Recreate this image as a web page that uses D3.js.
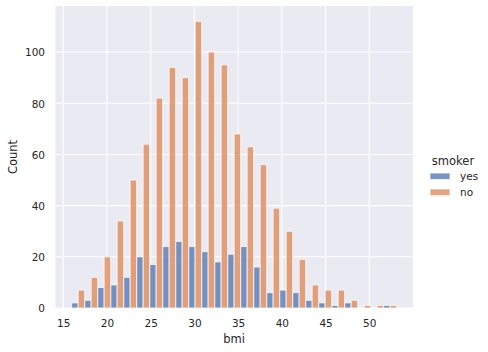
<!DOCTYPE html>
<html>
<head>
<meta charset="utf-8">
<script src="https://cdn.jsdelivr.net/npm/d3@7"></script>
<style>
  html, body { margin: 0; padding: 0; background: #ffffff; }
  svg { display: block; }
  text { font-family: "DejaVu Sans", sans-serif; fill: #262626; }
</style>
</head>
<body>
<svg id="chart" width="488" height="352"></svg>
<script>
// ---- data ----
const hueLevels = ["yes", "no"];
const bmiMin = 15.96;
const bmiMax = 53.13;
const nBins = 25;
const countsYes = [2, 3, 8, 9, 12, 20, 17, 24, 26, 24, 22, 18, 21, 24, 16, 6, 7, 6, 3, 2, 1, 2, 0, 0, 1];
const countsNo  = [7, 12, 20, 34, 50, 64, 82, 94, 90, 112, 100, 95, 68, 63, 56, 39, 30, 19, 9, 7, 7, 3, 1, 1, 1];
const xTicks = [15, 20, 25, 30, 35, 40, 45, 50];
const yTicks = [0, 20, 40, 60, 80, 100];
const xLabel = "bmi";
const yLabel = "Count";
const legendTitle = "smoker";

// ---- layout ----
const colors = { yes: "#4C72B0", no: "#DD8452" };
const alpha = 0.75;
const plot = { left: 55.4, right: 412.9, top: 6, bottom: 308 };

const binW = (bmiMax - bmiMin) / nBins;
const edges = d3.range(nBins).map(i => bmiMin + i * binW);
const pad = (bmiMax - bmiMin) * 0.05;

const x = d3.scaleLinear().domain([bmiMin - pad, bmiMax + pad]).range([plot.left, plot.right]);
const y = d3.scaleLinear().domain([0, 118]).range([plot.bottom, plot.top]);

const svg = d3.select("#chart");

svg.append("rect")
  .attr("x", plot.left).attr("y", plot.top)
  .attr("width", plot.right - plot.left).attr("height", plot.bottom - plot.top)
  .attr("fill", "#EAEAF2");

// grid
const grid = svg.append("g");
grid.selectAll("line.gx").data(xTicks).join("line")
  .attr("x1", d => x(d)).attr("x2", d => x(d))
  .attr("y1", plot.top).attr("y2", plot.bottom)
  .attr("stroke", "#ffffff").attr("stroke-width", 1.1);
grid.selectAll("line.gy").data(yTicks).join("line")
  .attr("y1", d => y(d)).attr("y2", d => y(d))
  .attr("x1", plot.left).attr("x2", plot.right)
  .attr("stroke", "#ffffff").attr("stroke-width", 1.1);

// bars
const series = [
  { key: "yes", values: countsYes, offset: 0 },
  { key: "no", values: countsNo, offset: 1 }
];
const barsG = svg.append("g");
series.forEach(s => {
  barsG.selectAll(null).data(s.values.map((v, i) => ({ v, e: edges[i] }))).join("rect")
    .filter(d => d.v > 0)
    .attr("x", d => x(d.e + s.offset * binW / 2))
    .attr("width", d => x(d.e + binW / 2) - x(d.e))
    .attr("y", d => y(d.v))
    .attr("height", d => y(0) - y(d.v))
    .attr("fill", colors[s.key])
    .attr("fill-opacity", alpha)
    .attr("stroke", "#ffffff")
    .attr("stroke-opacity", alpha)
    .attr("stroke-width", 1);
});

// axes (tick labels only, seaborn darkgrid)
const xAxis = d3.axisBottom(x).tickValues(xTicks).tickSize(0).tickPadding(0);
const gx = svg.append("g").attr("transform", `translate(0,${plot.bottom})`).call(xAxis);
gx.select(".domain").remove();
gx.selectAll("text").attr("y", 19).attr("dy", null)
  .style("font-size", "10.5px").style("fill", "#262626");

const yAxis = d3.axisLeft(y).tickValues(yTicks).tickSize(0).tickPadding(0);
const gy = svg.append("g").attr("transform", `translate(45,0)`).call(yAxis);
gy.select(".domain").remove();
gy.selectAll("text").attr("x", 0).attr("dy", "0.36em")
  .style("font-size", "10.5px").style("fill", "#262626");

// axis labels
svg.append("text")
  .attr("x", (plot.left + plot.right) / 2).attr("y", 343)
  .attr("text-anchor", "middle").style("font-size", "11.5px")
  .text(xLabel);
svg.append("text")
  .attr("transform", `translate(16.5,${(plot.top + plot.bottom) / 2}) rotate(-90)`)
  .attr("text-anchor", "middle").style("font-size", "11.5px")
  .text(yLabel);

// legend
const lg = svg.append("g");
lg.append("text").attr("x", 453).attr("y", 165)
  .attr("text-anchor", "middle").style("font-size", "11.5px").text(legendTitle);
hueLevels.forEach((k, i) => {
  const yy = 173 + i * 16;
  lg.append("rect").attr("x", 430).attr("y", yy).attr("width", 20).attr("height", 6.5)
    .attr("fill", colors[k]).attr("fill-opacity", alpha)
    .attr("stroke", "#ffffff").attr("stroke-opacity", alpha).attr("stroke-width", 1);
  lg.append("text").attr("x", 460).attr("y", yy + 7)
    .style("font-size", "10.5px").text(k);
});
</script>
</body>
</html>
